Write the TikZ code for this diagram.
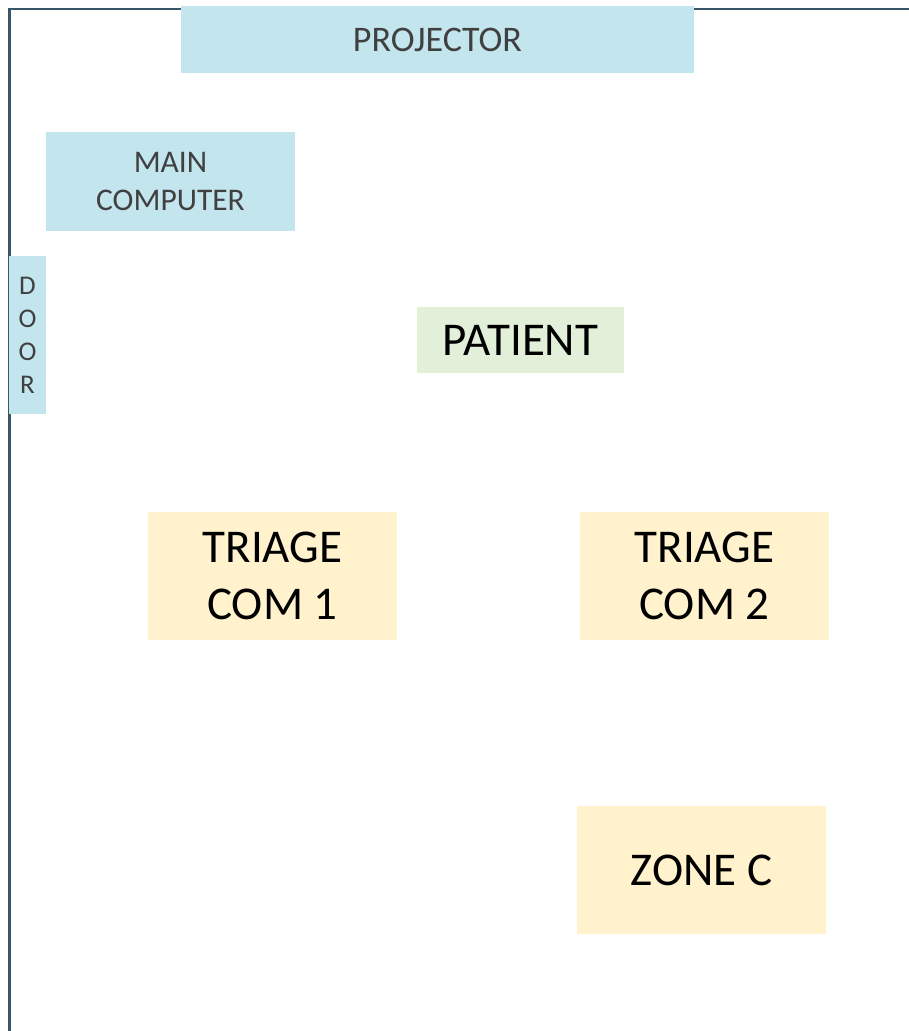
\documentclass[tikz,border=0pt]{standalone}
\usepackage{fontspec}
\setmainfont{Carlito}
\definecolor{wallcol}{HTML}{3B5568}
\definecolor{bluefill}{HTML}{C3E5ED}
\definecolor{greenfill}{HTML}{E2F0D9}
\definecolor{yellowfill}{HTML}{FFF2CC}
\definecolor{greytext}{HTML}{404040}
\begin{document}
\begin{tikzpicture}[x=1pt,y=-1pt]
    \useasboundingbox (0,0) rectangle (909,1031);
    % walls
    \draw[wallcol, line width=2.5pt] (9.5,1031) -- (9.5,9) -- (909,9);
    \begin{scope}
        \tikzstyle{every node}=[inner sep=0pt, align=center, minimum width=249pt, minimum height=128pt]
        \tikzstyle{bluebox}=[fill=bluefill, text=greytext]
        \tikzstyle{bigtext}=[text=black, font=\fontsize{47}{57}\selectfont]
        \node[bluebox, minimum width=513pt, minimum height=67pt, font=\fontsize{36}{43}\selectfont] (projector) at (437.5,39.5) {PROJECTOR};
        \node[bluebox, minimum height=99pt, font=\fontsize{31.5}{38}\selectfont] (computer) at (170.5,181.5) {MAIN\\COMPUTER};
        \node[bluebox, minimum width=37pt, minimum height=158pt, font=\fontsize{27}{33}\selectfont] (door) at (27.5,335) {D\\O\\O\\R};
        \node[bigtext, fill=greenfill, minimum width=207pt, minimum height=66pt] (patient) at (520.5,340) {PATIENT};
        \node[bigtext, fill=yellowfill] (triage1) at (272.5,576) {TRIAGE\\COM 1};
        \node[bigtext, fill=yellowfill] (triage2) at (704.5,576) {TRIAGE\\COM 2};
        \node[bigtext, fill=yellowfill] (zonec) at (701.5,870) {ZONE C};
    \end{scope}
\end{tikzpicture}
\end{document}
